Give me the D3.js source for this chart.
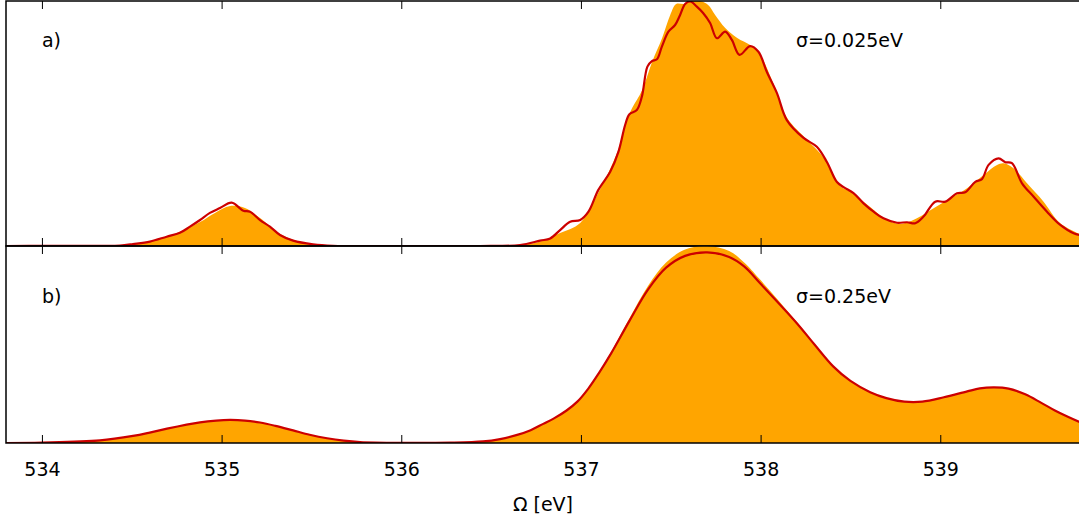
<!DOCTYPE html>
<html>
<head>
<meta charset="utf-8">
<script src="https://cdn.jsdelivr.net/npm/d3@7"></script>
<style>
  html, body { margin: 0; padding: 0; background: #fff; }
  svg { display: block; }
  text { font-family: "DejaVu Sans", sans-serif; fill: #000; }
</style>
</head>
<body>
<svg id="chart" width="1079" height="523"></svg>
<script>
// Photon energy axis
const xTicks = [534, 535, 536, 537, 538, 539];
const xDomain = [533.8, 539.8];

// Panel a) sigma = 0.025 eV : broadened spectrum (line)
const narrowLineE = [533.800, 534.000, 534.323, 534.434, 534.507, 534.601, 534.694, 534.768, 534.824, 534.880,
  534.935, 534.991, 535.056, 535.121, 535.158, 535.214, 535.269, 535.325, 535.398, 535.509,
  535.620, 535.993, 536.439, 536.661, 536.773, 536.829, 536.884, 536.940, 536.996, 537.042,
  537.097, 537.163, 537.209, 537.246, 537.270, 537.311, 537.339, 537.370, 537.395, 537.423,
  537.450, 537.487, 537.524, 537.552, 537.580, 537.608, 537.645, 537.680, 537.719, 537.757,
  537.803, 537.840, 537.883, 537.942, 537.988, 538.035, 538.091, 538.146, 538.239, 538.313,
  538.369, 538.425, 538.462, 538.517, 538.573, 538.629, 538.684, 538.759, 538.815, 538.861,
  538.907, 538.972, 539.028, 539.093, 539.139, 539.195, 539.232, 539.269, 539.325, 539.362,
  539.399, 539.455, 539.520, 539.594, 539.668, 539.742, 539.802];
const narrowLineI = [0.000, 0.001, 0.001, 0.002, 0.008, 0.018, 0.038, 0.054, 0.079, 0.106,
  0.135, 0.155, 0.177, 0.144, 0.140, 0.106, 0.079, 0.045, 0.022, 0.007,
  0.001, 0.000, 0.000, 0.004, 0.022, 0.031, 0.065, 0.099, 0.106, 0.140,
  0.229, 0.303, 0.385, 0.494, 0.538, 0.555, 0.609, 0.732, 0.755, 0.762,
  0.813, 0.875, 0.902, 0.943, 0.988, 0.998, 0.977, 0.951, 0.910, 0.848,
  0.875, 0.841, 0.780, 0.816, 0.793, 0.710, 0.624, 0.514, 0.441, 0.405,
  0.343, 0.261, 0.240, 0.216, 0.174, 0.140, 0.113, 0.095, 0.097, 0.093,
  0.120, 0.181, 0.181, 0.215, 0.219, 0.262, 0.273, 0.331, 0.358, 0.342,
  0.338, 0.256, 0.201, 0.140, 0.086, 0.052, 0.041];

// Panel a) sigma = 0.025 eV : reference spectrum (filled)
const narrowFillE = [533.800, 534.323, 534.507, 534.694, 534.880, 534.963, 535.047, 535.130, 535.214, 535.325,
  535.509, 535.993, 536.661, 536.773, 536.884, 536.996, 537.096, 537.207, 537.246, 537.285,
  537.341, 537.396, 537.452, 537.497, 537.530, 537.575, 537.619, 537.664, 537.708, 537.747,
  537.803, 537.870, 537.942, 537.998, 538.070, 538.148, 538.259, 538.349, 538.443, 538.499,
  538.610, 538.694, 538.777, 538.870, 538.963, 539.056, 539.149, 539.241, 539.316, 539.353,
  539.408, 539.483, 539.575, 539.668, 539.802];
const narrowFillI = [0.000, 0.001, 0.006, 0.037, 0.098, 0.135, 0.163, 0.155, 0.114, 0.049,
  0.006, 0.000, 0.004, 0.018, 0.053, 0.094, 0.216, 0.392, 0.498, 0.563,
  0.637, 0.751, 0.849, 0.943, 0.988, 0.988, 1.000, 1.000, 0.984, 0.943,
  0.890, 0.849, 0.820, 0.780, 0.665, 0.522, 0.433, 0.363, 0.245, 0.222,
  0.159, 0.110, 0.090, 0.113, 0.154, 0.195, 0.236, 0.290, 0.331, 0.338,
  0.317, 0.256, 0.181, 0.093, 0.041];

// Panel b) sigma = 0.25 eV : both spectra share the energy grid
const broadE = [533.800, 534.000, 534.323, 534.507, 534.600, 534.696, 534.880, 534.970, 535.047, 535.130,
  535.214, 535.300, 535.398, 535.490, 535.587, 535.680, 535.771, 535.993, 536.272, 536.455,
  536.550, 536.645, 536.720, 536.790, 536.850, 536.920, 536.980, 537.040, 537.100, 537.168,
  537.270, 537.374, 537.474, 537.580, 537.703, 537.825, 537.910, 537.992, 538.198, 538.300,
  538.404, 538.500, 538.610, 538.700, 538.800, 538.900, 539.020, 539.150, 539.220, 539.300,
  539.380, 539.473, 539.560, 539.638, 539.710, 539.777, 539.802];
const broadLineI = [0.000, 0.002, 0.013, 0.036, 0.053, 0.073, 0.105, 0.114, 0.117, 0.114,
  0.104, 0.087, 0.064, 0.042, 0.024, 0.012, 0.005, 0.001, 0.002, 0.008,
  0.020, 0.041, 0.065, 0.097, 0.125, 0.165, 0.210, 0.275, 0.355, 0.455,
  0.620, 0.780, 0.890, 0.950, 0.968, 0.944, 0.895, 0.816, 0.612, 0.500,
  0.389, 0.315, 0.258, 0.228, 0.210, 0.210, 0.232, 0.262, 0.277, 0.282,
  0.276, 0.247, 0.205, 0.165, 0.133, 0.106, 0.097];
const broadFillI = [0.000, 0.002, 0.013, 0.036, 0.053, 0.073, 0.105, 0.114, 0.117, 0.114,
  0.104, 0.087, 0.064, 0.042, 0.024, 0.012, 0.005, 0.001, 0.002, 0.008,
  0.020, 0.041, 0.065, 0.097, 0.125, 0.165, 0.211, 0.277, 0.358, 0.462,
  0.633, 0.798, 0.916, 0.982, 1.000, 0.975, 0.915, 0.835, 0.618, 0.503,
  0.390, 0.315, 0.258, 0.228, 0.210, 0.210, 0.232, 0.262, 0.277, 0.282,
  0.276, 0.247, 0.205, 0.165, 0.133, 0.106, 0.097];

const panelLabels = ["a)", "b)"];
const sigmaLabels = ["σ=0.025eV", "σ=0.25eV"];
const axisTitle = "Ω [eV]";

const svg = d3.select("#chart");
const left = 6, right = 1084;
const fontSize = 19;
const x = d3.scaleLinear().domain(xDomain).range([left, right]);

const panels = [
  { top: 1, bottom: 246, lineE: narrowLineE, lineI: narrowLineI, fillE: narrowFillE, fillI: narrowFillI,
    label: panelLabels[0], sigma: sigmaLabels[0], labelY: 47 },
  { top: 246, bottom: 443, lineE: broadE, lineI: broadLineI, fillE: broadE, fillI: broadFillI,
    label: panelLabels[1], sigma: sigmaLabels[1], labelY: 303 }
];

const smooth = d3.curveCatmullRom.alpha(0.5);

panels.forEach((p, k) => {
  const y = d3.scaleLinear().domain([0, 1]).range([p.bottom, p.top]);
  const clipId = "clip" + k;
  svg.append("clipPath").attr("id", clipId)
    .append("rect").attr("x", left).attr("y", p.top)
    .attr("width", right - left).attr("height", p.bottom - p.top);

  const g = svg.append("g").attr("clip-path", `url(#${clipId})`);

  const fillData = p.fillE.map((e, i) => [e, p.fillI[i]]);
  const lineData = p.lineE.map((e, i) => [e, p.lineI[i]]);

  const area = d3.area()
    .curve(smooth)
    .x(d => x(d[0])).y0(y(0)).y1(d => y(d[1]));
  const line = d3.line()
    .curve(smooth)
    .x(d => x(d[0])).y(d => y(d[1]));

  g.append("path").datum(fillData).attr("d", area)
    .attr("fill", "#ffa500").attr("stroke", "none");
  g.append("path").datum(lineData).attr("d", line)
    .attr("fill", "none").attr("stroke", "#cc0000")
    .attr("stroke-width", 2.2).attr("stroke-linejoin", "round");

  // inward ticks on bottom and top edge of each panel
  const bottomAxis = d3.axisTop(x).tickValues(xTicks).tickSize(8).tickFormat("");
  const topAxis = d3.axisBottom(x).tickValues(xTicks).tickSize(8).tickFormat("");
  [[bottomAxis, p.bottom], [topAxis, p.top]].forEach(([ax, yy]) => {
    const a = svg.append("g").attr("transform", `translate(0,${yy})`).call(ax);
    a.select(".domain").remove();
    a.selectAll(".tick line").attr("stroke", "#000").attr("stroke-width", 1);
  });

  // frame
  svg.append("rect").attr("x", left).attr("y", p.top)
    .attr("width", right - left).attr("height", p.bottom - p.top)
    .attr("fill", "none").attr("stroke", "#000").attr("stroke-width", 1.5);

  svg.append("text").attr("x", x(534)).attr("y", p.labelY)
    .attr("font-size", fontSize).text(p.label);
  svg.append("text").attr("x", 796).attr("y", p.labelY)
    .attr("font-size", fontSize).text(p.sigma);
});

// tick labels below the lower panel
const labelAxis = d3.axisBottom(x).tickValues(xTicks).tickSize(0).tickPadding(0)
  .tickFormat(d3.format("d"));
const la = svg.append("g").attr("transform", "translate(0,443)").call(labelAxis);
la.select(".domain").remove();
la.selectAll(".tick line").remove();
la.selectAll(".tick text")
  .attr("y", 33).attr("dy", null)
  .attr("font-family", "DejaVu Sans, sans-serif")
  .attr("font-size", fontSize).attr("fill", "#000");

svg.append("text").attr("x", 543).attr("y", 511)
  .attr("text-anchor", "middle").attr("font-size", fontSize).text(axisTitle);
</script>
</body>
</html>
